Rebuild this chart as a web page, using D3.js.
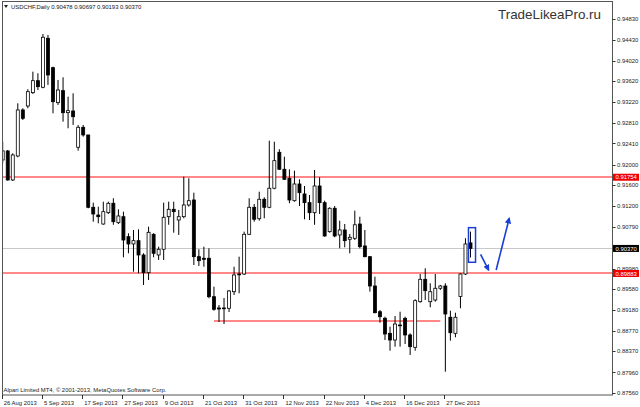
<!DOCTYPE html>
<html><head><meta charset="utf-8">
<script src="https://cdn.jsdelivr.net/npm/d3@7"></script>
<style>html,body{margin:0;padding:0;background:#fff;} svg{display:block;}</style>
</head><body><svg id="c" width="640" height="407"></svg>
<script>
// ---- data ----
const symbolTitle = "USDCHF,Daily";
const headerValues = ["0.90478", "0.90697", "0.90193", "0.90370"];
const opens = [0.9209,0.92265,0.91701,0.92167,0.93062,0.93139,0.93398,0.93631,0.93503,0.94455,
0.93884,0.93204,0.93437,0.93009,0.93042,0.92337,0.92725,0.92576,0.9117,0.9102,
0.90845,0.91065,0.91248,0.90871,0.90987,0.90599,0.90457,0.90521,0.90243,0.89899,
0.90645,0.90243,0.90354,0.90987,0.91131,0.90923,0.90987,0.91215,0.91312,0.9021,
0.90179,0.90179,0.89432,0.89213,0.89203,0.89207,0.89529,0.89864,0.89873,0.90645,
0.9117,0.90948,0.91326,0.9117,0.9154,0.92239,0.91909,0.91734,0.91298,0.91623,
0.91429,0.9126,0.91065,0.91584,0.9126,0.90696,0.91151,0.90632,0.90729,0.90548,
0.90567,0.90845,0.90418,0.9021,0.8964,0.8914,0.89012,0.8872,0.8859,0.88882,
0.89012,0.88688,0.88448,0.89335,0.8977,0.89335,0.89368,0.89596,0.8964,0.89032,
0.8872,0.89438,0.89873,0.90478];
const highs = [0.92445,0.92284,0.9222,0.93192,0.93095,0.93464,0.93806,0.93775,0.94539,0.9452,
0.93903,0.93645,0.93697,0.9332,0.93386,0.9277,0.9277,0.92576,0.9126,0.91182,
0.91279,0.91279,0.91345,0.91131,0.91085,0.90665,0.90729,0.90742,0.90276,0.90793,
0.90665,0.90404,0.9126,0.91279,0.91279,0.91118,0.91765,0.91734,0.91454,0.90354,
0.90404,0.90373,0.89627,0.89271,0.89407,0.89562,0.90015,0.9021,0.90696,0.91345,
0.91234,0.91473,0.91364,0.92465,0.92445,0.92298,0.92154,0.91909,0.91882,0.91714,
0.91584,0.91409,0.91895,0.91753,0.91298,0.9117,0.91195,0.9091,0.90845,0.90651,
0.91104,0.90987,0.90729,0.90223,0.89821,0.89174,0.89043,0.88849,0.89057,0.8914,
0.89043,0.8872,0.89382,0.89873,0.89984,0.89693,0.89873,0.8966,0.89693,0.8916,
0.89121,0.89887,0.90567,0.90697];
const lows = [0.92025,0.91687,0.91681,0.92142,0.92867,0.93095,0.93373,0.9345,0.93483,0.93548,
0.92997,0.93159,0.92834,0.92706,0.9277,0.9227,0.92543,0.91151,0.9089,0.90859,
0.9083,0.9104,0.9083,0.90845,0.90198,0.90276,0.89918,0.89887,0.8966,0.89757,
0.90198,0.90146,0.90146,0.9083,0.90676,0.90632,0.90956,0.91182,0.90048,0.90029,
0.90015,0.89401,0.8916,0.8894,0.88901,0.89135,0.89465,0.89498,0.89854,0.90632,
0.9089,0.9091,0.90956,0.91151,0.9152,0.91895,0.91701,0.91248,0.91279,0.91195,
0.90937,0.90923,0.9083,0.9104,0.90599,0.90676,0.90587,0.90373,0.90392,0.90276,
0.90534,0.90373,0.90198,0.8953,0.89109,0.88927,0.8859,0.88382,0.8846,0.8846,
0.88513,0.88299,0.88382,0.89316,0.89368,0.89226,0.89335,0.89562,0.87974,0.88577,
0.88643,0.89207,0.89854,0.90193];
const closes = [0.92265,0.91701,0.92187,0.93062,0.929,0.93417,0.93631,0.93515,0.94475,0.93742,
0.93223,0.9345,0.93009,0.93048,0.92931,0.92725,0.92576,0.9117,0.9104,0.90987,
0.91085,0.91248,0.9089,0.91001,0.90534,0.90457,0.90521,0.90243,0.89899,0.90684,
0.90276,0.90354,0.90976,0.91131,0.91085,0.90987,0.91215,0.91298,0.9021,0.90132,
0.90159,0.89432,0.89187,0.89193,0.89213,0.89543,0.89854,0.89873,0.90645,0.9117,
0.90937,0.91326,0.9117,0.9154,0.92076,0.91909,0.91714,0.91312,0.91623,0.91454,
0.9126,0.91065,0.91584,0.9126,0.90612,0.91151,0.90612,0.90729,0.90521,0.90587,
0.9083,0.90404,0.9021,0.8964,0.89121,0.89043,0.88707,0.8859,0.88901,0.88872,
0.88688,0.8846,0.89355,0.8977,0.89549,0.89529,0.89596,0.8964,0.89096,0.88732,
0.89032,0.89873,0.90457,0.9037];
const dateLabels = ["26 Aug 2013","5 Sep 2013","17 Sep 2013","27 Sep 2013","9 Oct 2013","21 Oct 2013",
"31 Oct 2013","12 Nov 2013","22 Nov 2013","4 Dec 2013","16 Dec 2013","27 Dec 2013"];
const dateBars = [0,8,16,24,32,40,48,56,64,72,80,88];
const priceTicks = [0.94830,0.94430,0.94020,0.93620,0.93220,0.92810,0.92410,0.92000,0.91600,0.91200,
0.90790,0.89980,0.89580,0.89180,0.88770,0.88370,0.87960,0.87560];
const redLevels = [0.91754, 0.89883];
const currentPrice = 0.90370;
const shortLevel = [{bar:42, price:0.88965},{bar:87, price:0.88965}];
const boxBars = [92.6, 94.0];
const boxPrices = [0.90774, 0.90101];
const arrowStarts = [[95.0, 0.90256],[98.1, 0.89951]];
const arrowEnds   = [[96.6, 0.89951],[100.7, 0.90956]];
const watermark = "TradeLikeaPro.ru";
const copyright = "Alpari Limited MT4, © 2001-2013, MetaQuotes Software Corp.";

// ---- drawing ----
const svg = d3.select("#c");
const L = 2.5, R = 612.5, T = 1.5, B = 395;
const x = d3.scaleLinear().domain([0, 93]).range([2.7, 470.5]);
const y = d3.scaleLinear().domain([0.8756, 0.9483]).range([393, 19]);
const snap = v => Math.round(v) + 0.5;
const font = "'Liberation Sans', Arial, sans-serif";
const fs = 5.9;
const red = "#ff1010";

svg.append("defs").append("clipPath").attr("id","plot")
  .append("rect").attr("x",L).attr("y",T).attr("width",R-L).attr("height",B-T);
svg.select("defs").append("marker").attr("id","ah").attr("viewBox","0 0 10 10")
  .attr("refX",8).attr("refY",5).attr("markerWidth",4).attr("markerHeight",4)
  .attr("orient","auto").append("path").attr("d","M0,0L10,5L0,10z").attr("fill","#1b3fd6");

const plot = svg.append("g").attr("clip-path","url(#plot)");

// current price line
plot.append("line").attr("x1",L).attr("x2",R).attr("y1",snap(y(currentPrice))).attr("y2",snap(y(currentPrice)))
  .attr("stroke","#c8c8c8").attr("stroke-width",1);
// red levels
plot.selectAll(".lvl").data(redLevels).join("line").attr("class","lvl")
  .attr("x1",L).attr("x2",R).attr("y1",d=>Math.round(y(d))).attr("y2",d=>Math.round(y(d)))
  .attr("stroke",red).attr("stroke-width",1);
plot.append("line").attr("x1",x(shortLevel[0].bar)).attr("x2",x(shortLevel[1].bar))
  .attr("y1",Math.round(y(shortLevel[0].price))).attr("y2",Math.round(y(shortLevel[1].price)))
  .attr("stroke",red).attr("stroke-width",1);

// candles
const idx = d3.range(opens.length);
plot.selectAll(".wick").data(idx).join("line").attr("class","wick")
  .attr("x1",i=>x(i)).attr("x2",i=>x(i)).attr("y1",i=>y(highs[i])).attr("y2",i=>y(lows[i]))
  .attr("stroke","#000").attr("stroke-width",1);
plot.selectAll(".body").data(idx).join("rect").attr("class","body")
  .attr("x",i=>x(i)-1.5).attr("width",3)
  .attr("y",i=>y(Math.max(opens[i],closes[i])))
  .attr("height",i=>Math.max(0.8, Math.abs(y(opens[i])-y(closes[i]))))
  .attr("fill",i=>closes[i]>=opens[i]?"#fff":"#000")
  .attr("stroke","#000").attr("stroke-width",0.8);

// blue box and arrows
plot.append("rect").attr("x",x(boxBars[0])).attr("width",x(boxBars[1])-x(boxBars[0]))
  .attr("y",y(boxPrices[0])).attr("height",y(boxPrices[1])-y(boxPrices[0]))
  .attr("fill","none").attr("stroke","#1b3fd6").attr("stroke-width",1.5);
plot.selectAll(".arr").data(d3.range(arrowStarts.length)).join("line").attr("class","arr")
  .attr("x1",i=>x(arrowStarts[i][0])).attr("y1",i=>y(arrowStarts[i][1]))
  .attr("x2",i=>x(arrowEnds[i][0])).attr("y2",i=>y(arrowEnds[i][1]))
  .attr("stroke","#1b3fd6").attr("stroke-width",1.6).attr("marker-end","url(#ah)");

// frame
svg.append("rect").attr("x",L).attr("y",T).attr("width",R-L).attr("height",B-T)
  .attr("fill","none").attr("stroke","#555").attr("stroke-width",1);

// price axis
const pa = svg.append("g");
pa.selectAll("line").data(priceTicks).join("line")
  .attr("x1",R).attr("x2",R+3).attr("y1",d=>snap(y(d))).attr("y2",d=>snap(y(d)))
  .attr("stroke","#333");
pa.selectAll("text").data(priceTicks).join("text")
  .attr("x",617).attr("y",d=>y(d)+2.1).text(d=>d.toFixed(5))
  .attr("font-family",font).attr("font-size",fs).attr("fill","#222");

// level labels
const lab = svg.append("g");
redLevels.forEach(p=>{
  lab.append("rect").attr("x",613).attr("y",y(p)-3.5).attr("width",26).attr("height",7).attr("fill","#f00000");
  lab.append("text").attr("x",615.5).attr("y",y(p)+2.1).text(p.toFixed(5))
    .attr("font-family",font).attr("font-size",fs).attr("fill","#fff");
});
lab.append("rect").attr("x",613).attr("y",y(currentPrice)-3.5).attr("width",26).attr("height",7).attr("fill","#000");
lab.append("text").attr("x",615.5).attr("y",y(currentPrice)+2.1).text(currentPrice.toFixed(5))
  .attr("font-family",font).attr("font-size",fs).attr("fill","#fff");

// date axis
const da = svg.append("g");
da.selectAll("line").data(dateBars).join("line")
  .attr("x1",d=>Math.round(x(d))-0.5).attr("x2",d=>Math.round(x(d))-0.5).attr("y1",B).attr("y2",B+4)
  .attr("stroke","#333");
da.selectAll("text").data(dateBars).join("text")
  .attr("x",d=>x(d)+1).attr("y",404.5).text((d,i)=>dateLabels[i])
  .attr("font-family",font).attr("font-size",fs).attr("fill","#222");

// header
svg.append("path").attr("d","M4,5 L8,5 L6,8 Z").attr("fill","#222");
svg.append("text").attr("x",11).attr("y",9.3)
  .text(symbolTitle + "  " + headerValues.join(" "))
  .attr("font-family",font).attr("font-size",fs).attr("fill","#111");
svg.append("text").attr("x",498).attr("y",18.5).text(watermark)
  .attr("font-family",font).attr("font-size",13.4).attr("fill","#333");
svg.append("text").attr("x",3.5).attr("y",392).text(copyright)
  .attr("font-family",font).attr("font-size",fs).attr("fill","#222");
</script></body></html>
